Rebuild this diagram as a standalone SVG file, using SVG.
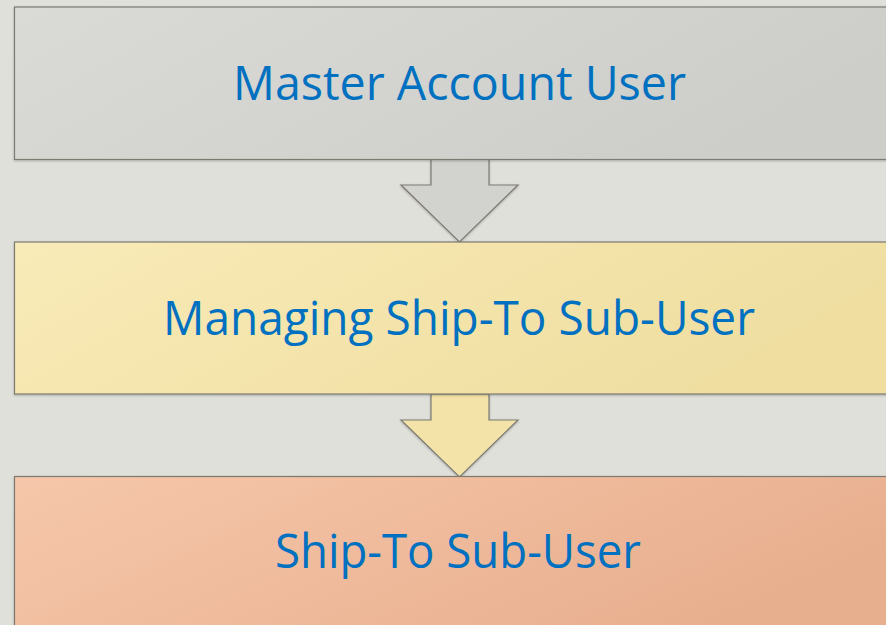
<svg xmlns="http://www.w3.org/2000/svg" width="886" height="625" viewBox="0 0 886 625">
  <style>
    .label { font-family: "Open Sans", "Noto Sans", "Liberation Sans", sans-serif; font-size: 47px; fill: #0070C0; text-anchor: middle; }
    .edge { stroke: #7d7a72; stroke-width: 1.2; }
  </style>
  <defs>
    <linearGradient id="gGrey" x1="0" y1="0" x2="1" y2="0.3">
      <stop offset="0" stop-color="#dadad6"/>
      <stop offset="1" stop-color="#cdcdc9"/>
    </linearGradient>
    <linearGradient id="gYellow" x1="0" y1="0" x2="1" y2="0.3">
      <stop offset="0" stop-color="#f9ebb8"/>
      <stop offset="1" stop-color="#efdea0"/>
    </linearGradient>
    <linearGradient id="gPeach" x1="0" y1="0" x2="1" y2="0.4">
      <stop offset="0" stop-color="#f6c7aa"/>
      <stop offset="1" stop-color="#e8af8e"/>
    </linearGradient>
    <filter id="shadow" x="-5%" y="-5%" width="110%" height="115%">
      <feDropShadow dx="0" dy="1" stdDeviation="0.8" flood-color="#000" flood-opacity="0.25"/>
    </filter>
  </defs>

  <rect width="886" height="625" fill="#e0e0db"/>

  <!-- connectors: block arrows between levels -->
  <g id="connectors">
    <path class="edge" fill="#d2d2ce" filter="url(#shadow)" d="M431 159 V185 H401 L459.5 242 L518 185 H489 V159 Z"/>
    <path class="edge" fill="#f3e3a8" filter="url(#shadow)" d="M431 394 V420 H401 L459.5 477 L518 420 H489 V394 Z"/>
  </g>

  <g id="node-master">
    <rect class="edge" x="14.5" y="7" width="890" height="152.5" fill="url(#gGrey)" filter="url(#shadow)"/>
    <text class="label" x="459.5" y="100" textLength="453" lengthAdjust="spacingAndGlyphs">Master Account User</text>
  </g>

  <g id="node-managing">
    <rect class="edge" x="14.5" y="242" width="890" height="152" fill="url(#gYellow)" filter="url(#shadow)"/>
    <text class="label" x="459" y="335" textLength="592" lengthAdjust="spacingAndGlyphs">Managing Ship-To Sub-User</text>
  </g>

  <g id="node-shipto">
    <rect class="edge" x="14.5" y="476.5" width="890" height="160" fill="url(#gPeach)" filter="url(#shadow)"/>
    <text class="label" x="458" y="568" textLength="366" lengthAdjust="spacingAndGlyphs">Ship-To Sub-User</text>
  </g>
</svg>
